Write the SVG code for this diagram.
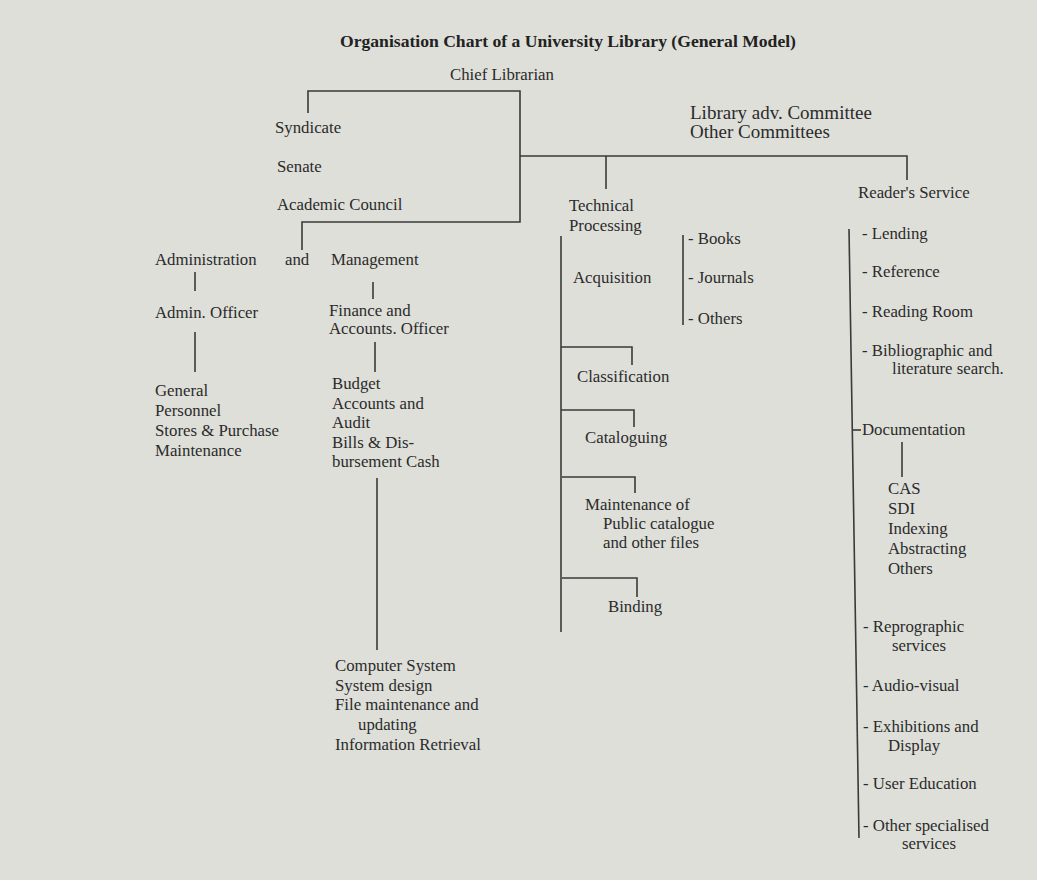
<svg xmlns="http://www.w3.org/2000/svg" width="1037" height="880" viewBox="0 0 1037 880">
<style>
.t{font-family:"Liberation Serif","Times New Roman",serif;font-size:16.8px;fill:#2b2b2b}
.title{font-family:"Liberation Serif","Times New Roman",serif;font-size:17.6px;font-weight:bold;fill:#222}
.big{font-size:19px}
.c{fill:none;stroke:#3a3a3a;stroke-width:1.6}
</style>
<rect width="1037" height="880" fill="#dedfd9"/>
<text class="title" x="568" y="47" text-anchor="middle">Organisation Chart of a University Library (General Model)</text>
<g id="connectors">
<path class="c" d="M308,113 V91 H520 V222 H302 V250"/>
<path class="c" d="M520,156 H907 V180"/>
<path class="c" d="M606,156 V189"/>
<path class="c" d="M195,272 V291"/>
<path class="c" d="M195,332 V372"/>
<path class="c" d="M373,282 V299"/>
<path class="c" d="M375,342 V372"/>
<path class="c" d="M377,478 V650"/>
<path class="c" d="M561,236 V632"/>
<path class="c" d="M561,347 H632 V365"/>
<path class="c" d="M561,410 H634 V427"/>
<path class="c" d="M562,477 H635 V493"/>
<path class="c" d="M562,578 H637 V597"/>
<path class="c" d="M683,235 V325"/>
<path class="c" d="M849,229 L859,838"/>
<path class="c" d="M853,430 H861"/>
<path class="c" d="M902,442 V477"/>
</g>
<g id="chief"><text class="t" x="450" y="80">Chief Librarian</text></g>
<g id="syndicate"><text class="t" x="275" y="133">Syndicate</text></g>
<g id="senate"><text class="t" x="277" y="172">Senate</text></g>
<g id="academic"><text class="t" x="277" y="210">Academic Council</text></g>
<g id="committees"><text class="t big" x="690" y="119">Library adv. Committee</text><text class="t big" x="690" y="138">Other Committees</text></g>
<g id="administration"><text class="t" x="155" y="265">Administration</text><text class="t" x="285" y="265">and</text></g>
<g id="management"><text class="t" x="331" y="265">Management</text></g>
<g id="adminofficer"><text class="t" x="155" y="318">Admin. Officer</text></g>
<g id="adminitems"><text class="t" x="155" y="396">General</text><text class="t" x="155" y="416">Personnel</text><text class="t" x="155" y="436">Stores &amp; Purchase</text><text class="t" x="155" y="456">Maintenance</text></g>
<g id="finance"><text class="t" x="329" y="316">Finance and</text><text class="t" x="329" y="334">Accounts. Officer</text></g>
<g id="financeitems"><text class="t" x="332" y="389">Budget</text><text class="t" x="332" y="409">Accounts and</text><text class="t" x="332" y="428">Audit</text><text class="t" x="332" y="448">Bills &amp; Dis-</text><text class="t" x="332" y="467">bursement Cash</text></g>
<g id="computer"><text class="t" x="335" y="671">Computer System</text><text class="t" x="335" y="691">System design</text><text class="t" x="335" y="710">File maintenance and</text><text class="t" x="358" y="730">updating</text><text class="t" x="335" y="750">Information Retrieval</text></g>
<g id="technical"><text class="t" x="569" y="211">Technical</text><text class="t" x="569" y="231">Processing</text></g>
<g id="acquisition"><text class="t" x="573" y="283">Acquisition</text></g>
<g id="acqitems"><text class="t" x="688" y="244">- Books</text><text class="t" x="688" y="283">- Journals</text><text class="t" x="688" y="324">- Others</text></g>
<g id="classification"><text class="t" x="577" y="382">Classification</text></g>
<g id="cataloguing"><text class="t" x="585" y="443">Cataloguing</text></g>
<g id="maintenance"><text class="t" x="585" y="510">Maintenance of</text><text class="t" x="603" y="529">Public catalogue</text><text class="t" x="603" y="548">and other files</text></g>
<g id="binding"><text class="t" x="608" y="612">Binding</text></g>
<g id="readers"><text class="t" x="858" y="198">Reader's Service</text></g>
<g id="readeritems">
<text class="t" x="862" y="239">- Lending</text>
<text class="t" x="862" y="277">- Reference</text>
<text class="t" x="862" y="317">- Reading Room</text>
<text class="t" x="862" y="356">- Bibliographic and</text>
<text class="t" x="892" y="374">literature search.</text>
</g>
<g id="documentation"><text class="t" x="862" y="435">Documentation</text></g>
<g id="docitems"><text class="t" x="888" y="494">CAS</text><text class="t" x="888" y="514">SDI</text><text class="t" x="888" y="534">Indexing</text><text class="t" x="888" y="554">Abstracting</text><text class="t" x="888" y="574">Others</text></g>
<g id="readeritems2">
<text class="t" x="863" y="632">- Reprographic</text>
<text class="t" x="892" y="651">services</text>
<text class="t" x="863" y="691">- Audio-visual</text>
<text class="t" x="863" y="732">- Exhibitions and</text>
<text class="t" x="888" y="751">Display</text>
<text class="t" x="863" y="789">- User Education</text>
<text class="t" x="863" y="831">- Other specialised</text>
<text class="t" x="902" y="849">services</text>
</g>
</svg>
